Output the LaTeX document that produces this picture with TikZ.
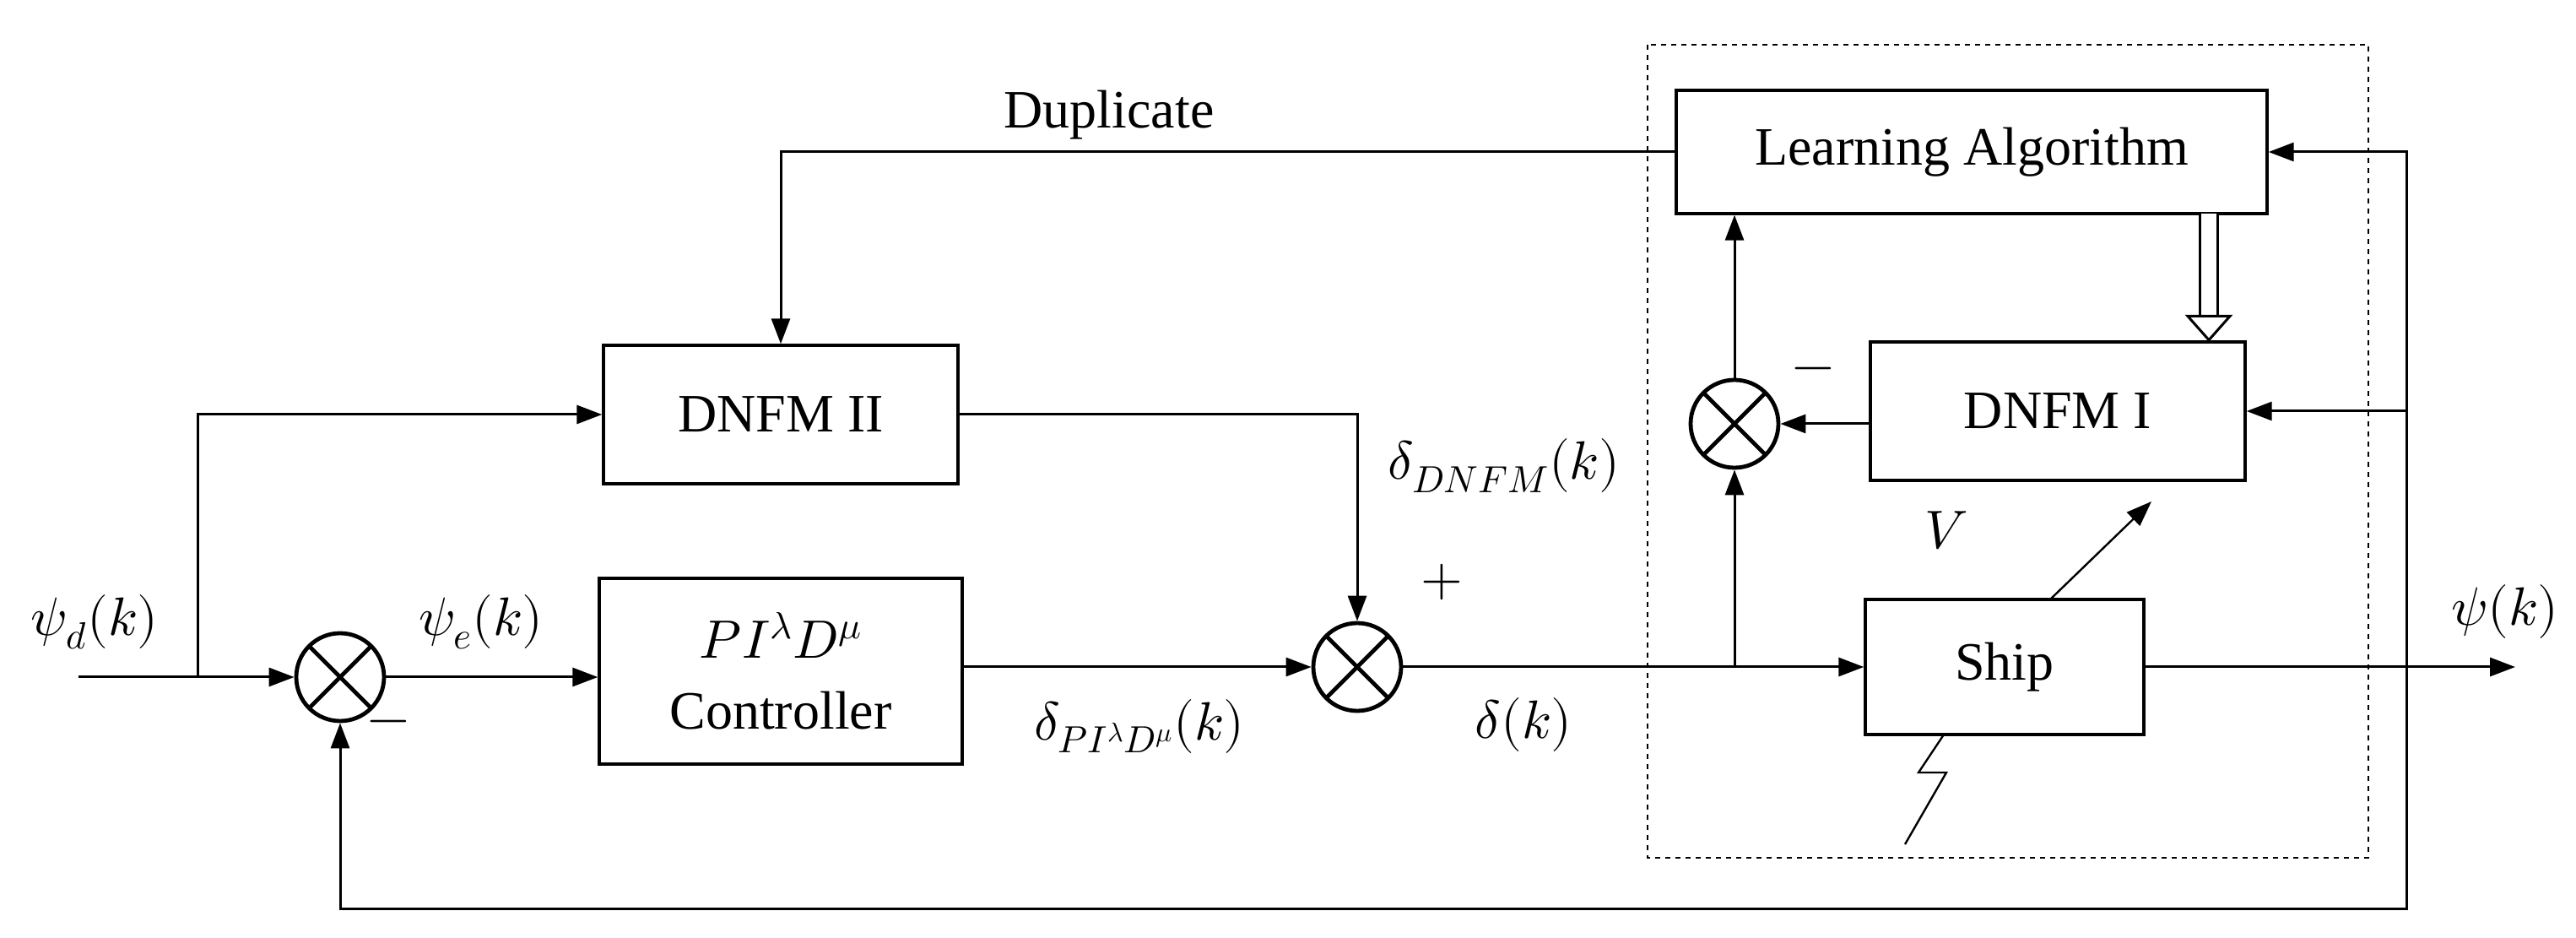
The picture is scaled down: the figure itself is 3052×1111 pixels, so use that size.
\documentclass[tikz,border=0pt]{standalone}
\usepackage{fontspec}
\setmainfont{Liberation Serif}
\usepackage{unicode-math}
\setmathfont{Latin Modern Math}
\usetikzlibrary{arrows.meta}
\begin{document}
\begin{tikzpicture}[x=0.5pt,y=-0.5pt,
  line width=1.5pt,
  >={Triangle[length=15pt,width=11pt]},
  blk/.style={draw,line width=1.7pt,inner sep=0pt,font=\fontsize{32}{38}\selectfont},
  sum/.style={draw,circle,line width=2.4pt,minimum size=52pt,inner sep=0pt,
    path picture={\draw[line width=2.4pt] (path picture bounding box.north west)--(path picture bounding box.south east)
      (path picture bounding box.north east)--(path picture bounding box.south west);}},
  lbl/.style={font=\fontsize{32}{38}\selectfont}]
\useasboundingbox (0,0) rectangle (3052,1111);
\draw[dashed,line width=1.2pt] (1952,53) rectangle (2806,1016);
\node[blk,minimum width=350pt,minimum height=73pt] (la) at (2336,180) {Learning Algorithm};
\node[blk,minimum width=222pt,minimum height=82pt] (d1) at (2438,487) {DNFM I};
\node[blk,minimum width=165pt,minimum height=80pt] (ship) at (2375,790) {Ship};
\node[blk,minimum width=210pt,minimum height=82pt] (d2) at (925,491) {DNFM II};
\node[blk,minimum width=215pt,minimum height=110pt,align=center] (pid) at (925,795) {$PI^{\lambda}D^{\mu}$\\[4pt]Controller};
\node[sum] (s1) at (403,802) {};
\node[sum] (s2) at (2055,502) {};
\node[sum] (s3) at (1608,790) {};
\coordinate (in) at (93,802);
\coordinate (br) at (234,802);
\coordinate (out) at (2980,790);
\coordinate (rv) at (2851,790);
\coordinate (tap) at (2055,790);
\coordinate (adS) at (2429,710);
\coordinate (adE) at (2549,594);
\draw[->] (in) -- (s1.west);
\draw[->] (br) |- (d2.west);
\draw[->] (s1.east) -- (pid.west |- s1.east);
\draw[->] (pid.east |- s3.west) -- (s3.west);
\draw[->] (d2.east) -| (s3.north);
\draw[->] (s3.east) -- (ship.west);
\draw[->] (tap) -- (s2.south);
\draw[->] (d1.west |- s2.east) -- (s2.east);
\draw[->] (s2.north) -- (la.south -| s2.north);
\draw[->] (la.west) -| (d2.north);
\draw[->] (ship.east) -- (out);
\draw[->] (rv) |- (la.east);
\draw[->] (rv |- d1.east) -- (d1.east);
\draw[->] (rv) -- (2851,1076) -| (s1.south);
\draw[line width=1.5pt,double distance=9pt,-{Triangle[open,length=16pt,width=28pt]}] (2617,253) -- (2617,405);
\draw[->,line width=1.2pt] (adS) -- (adE);
\draw[line width=1.2pt] (2303,870) -- (2273,915) -- (2306,915) -- (2257,1000);
\node[lbl] at (1314,136) {Duplicate};
\node[lbl] at (112,737) {$\psi_d(k)$};
\node[lbl] at (570,737) {$\psi_e(k)$};
\node[lbl] at (1350,860) {$\delta_{PI^{\lambda}D^{\mu}}(k)$};
\node[lbl] at (1805,858) {$\delta(k)$};
\node[lbl] at (1782,552) {$\delta_{DNFM}(k)$};
\node[lbl] at (2968,725) {$\psi(k)$};
\node[lbl] at (2306,628) {$V$};
\node[lbl] at (1708,690) {$+$};
\node[lbl] at (460,862) {$-$};
\node[lbl] at (2148,444) {$-$};
\end{tikzpicture}
\end{document}
